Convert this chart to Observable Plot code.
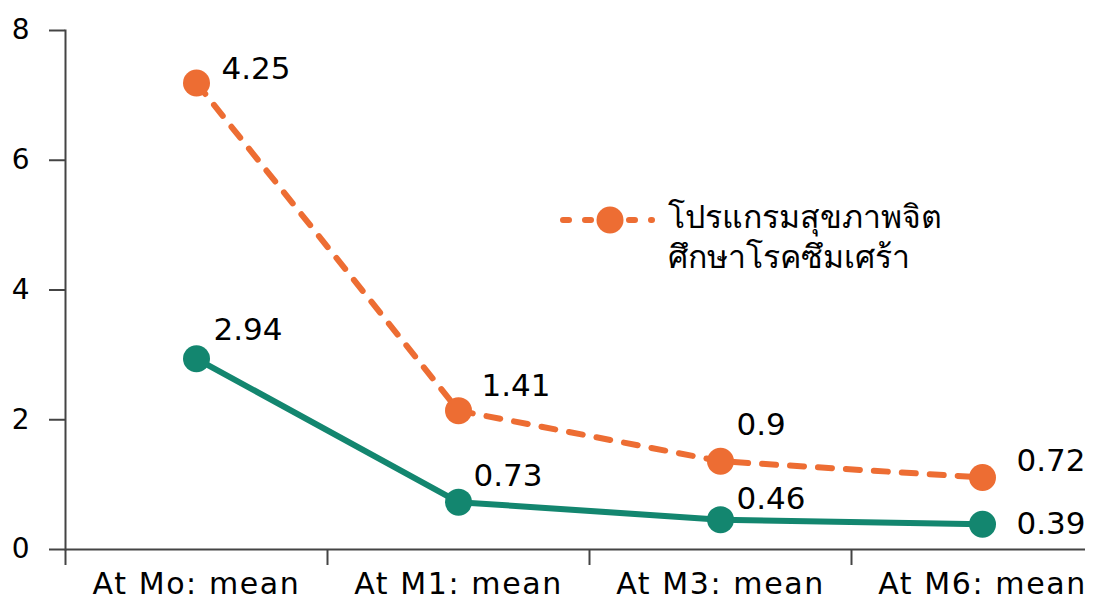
<!DOCTYPE html>
<html>
<head>
<meta charset="utf-8">
<script src="https://cdn.jsdelivr.net/npm/d3@7"></script>
<script src="https://cdn.jsdelivr.net/npm/@observablehq/plot@0.6"></script>
<style>
  html, body { margin: 0; padding: 0; background: #fff; }
  #wrap { position: relative; width: 1103px; height: 603px; font-family: "DejaVu Sans", sans-serif; }
  #legend-key { position: absolute; left: 557px; top: 200px; }
  #legend-text { position: absolute; left: 668px; top: 197px; font-size: 32px; line-height: 40px; color: #000; white-space: nowrap; }
  g[aria-label="x-axis tick label"] text { letter-spacing: 1.6px; }
</style>
</head>
<body>
<div id="wrap"></div>
<script>
// ---- data ----
const categories = ["At Mo: mean", "At M1: mean", "At M3: mean", "At M6: mean"];
const programValues = [4.25, 1.41, 0.9, 0.72];   // orange, stacked on top of the green series
const baseValues = [2.94, 0.73, 0.46, 0.39];      // green
const programName = "โปรแกรมสุขภาพจิตศึกษาโรคซึมเศร้า";
const programNameLines = ["โปรแกรมสุขภาพจิต", "ศึกษาโรคซึมเศร้า"];
const yTicks = [0, 2, 4, 6, 8];

// ---- styles / layout ----
const ORANGE = "#ED6D33";
const GREEN = "#13866F";
const AXIS = "#444";
const labelOffsets = {
  program: [[25, -14], [23, -25], [16, -36], [34, -16]],
  base: [[17, -29], [15, -26], [16, -21], [34, 0]]
};

// ---- derived tables ----
const baseRows = categories.map((c, i) => ({i, category: c, value: baseValues[i], y: baseValues[i]}));
const programRows = categories.map((c, i) => ({i, category: c, value: programValues[i], y: baseValues[i] + programValues[i]}));
const idx = categories.map((_, i) => i);
const boundaries = [...idx.map(i => i - 0.5), categories.length - 0.5];

const labelMarks = [];
programRows.forEach((d, k) => {
  const [dx, dy] = labelOffsets.program[k];
  labelMarks.push(Plot.text([d], {x: "i", y: "y", text: d => String(d.value), dx, dy, textAnchor: "start", fontSize: 31, fill: "#000"}));
});
baseRows.forEach((d, k) => {
  const [dx, dy] = labelOffsets.base[k];
  labelMarks.push(Plot.text([d], {x: "i", y: "y", text: d => String(d.value), dx, dy, textAnchor: "start", fontSize: 31, fill: "#000"}));
});

const chart = Plot.plot({
  width: 1103,
  height: 603,
  marginLeft: 65,
  marginRight: 18,
  marginTop: 30,
  marginBottom: 54,
  style: {fontFamily: "DejaVu Sans, sans-serif", background: "#fff"},
  x: {type: "linear", domain: [-0.5, categories.length - 0.5], range: [65, 1113], label: null},
  y: {domain: [0, 8], label: null},
  marks: [
    Plot.frame({anchor: "left", stroke: AXIS, strokeWidth: 2}),
    Plot.ruleY([0], {stroke: AXIS, strokeWidth: 2}),
    Plot.axisY({ticks: yTicks, label: null, tickSize: 16, tickPadding: 20, fontSize: 28, stroke: AXIS, strokeWidth: 2, fill: "#000", tickFormat: d => String(d)}),
    Plot.axisX({ticks: boundaries, label: null, tickSize: 16, tickFormat: () => "", stroke: AXIS, strokeWidth: 2}),
    Plot.axisX({ticks: idx, label: null, tickSize: 0, tickPadding: 23, fontSize: 30, fill: "#000", tickFormat: i => categories[i]}),
    Plot.line(baseRows, {x: "i", y: "y", stroke: GREEN, strokeWidth: 6, strokeLinejoin: "round", strokeLinecap: "round"}),
    Plot.line(programRows, {x: "i", y: "y", stroke: ORANGE, strokeWidth: 6, strokeDasharray: "14,14", strokeLinecap: "round", strokeLinejoin: "round"}),
    Plot.dot(baseRows, {x: "i", y: "y", r: 13.5, fill: GREEN, stroke: null}),
    Plot.dot(programRows, {x: "i", y: "y", r: 13.5, fill: ORANGE, stroke: null}),
    ...labelMarks
  ]
});

const wrap = document.getElementById("wrap");
wrap.appendChild(chart);

// legend (only the orange series is named)
const key = document.createElement("div");
key.id = "legend-key";
key.innerHTML = `<svg width="100" height="40" xmlns="http://www.w3.org/2000/svg">
  <line x1="6" y1="20" x2="95" y2="20" stroke="${ORANGE}" stroke-width="6" stroke-linecap="round" stroke-dasharray="6,16"></line>
  <circle cx="53" cy="20" r="13.5" fill="${ORANGE}"></circle>
</svg>`;
wrap.appendChild(key);
const lt = document.createElement("div");
lt.id = "legend-text";
lt.setAttribute("title", programName);
lt.innerHTML = programNameLines.map(s => `<div>${s}</div>`).join("");
wrap.appendChild(lt);
</script>
</body>
</html>
